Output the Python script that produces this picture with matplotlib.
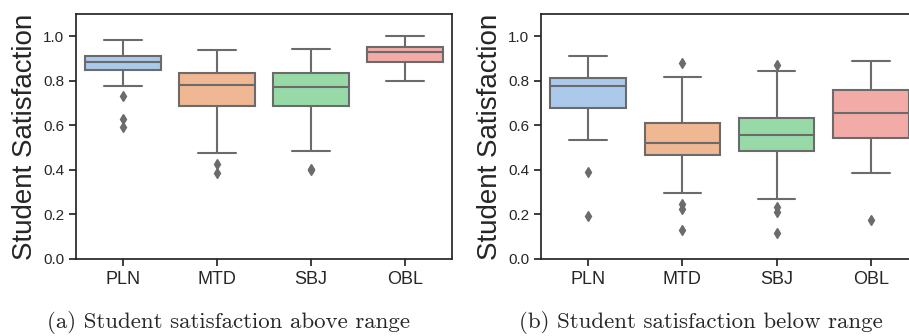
import matplotlib
matplotlib.use("Agg")
import matplotlib.pyplot as plt
import seaborn as sns

categories = ["PLN", "MTD", "SBJ", "OBL"]

# Panel (a): Student satisfaction above range
above_whislo = [0.777, 0.478, 0.485, 0.801]
above_q1 = [0.847, 0.687, 0.687, 0.885]
above_med = [0.885, 0.781, 0.771, 0.928]
above_q3 = [0.912, 0.837, 0.835, 0.952]
above_whishi = [0.983, 0.939, 0.942, 1.000]
above_fliers = [[0.732, 0.629, 0.591], [0.427, 0.385], [0.405, 0.398], []]

# Panel (b): Student satisfaction below range
below_whislo = [0.534, 0.298, 0.268, 0.388]
below_q1 = [0.678, 0.467, 0.485, 0.543]
below_med = [0.775, 0.522, 0.557, 0.656]
below_q3 = [0.814, 0.611, 0.635, 0.759]
below_whishi = [0.910, 0.816, 0.844, 0.889]
below_fliers = [[0.392, 0.193], [0.882, 0.247, 0.223, 0.130],
                [0.871, 0.235, 0.213, 0.118], [0.175]]

yticks = [0.0, 0.2, 0.4, 0.6, 0.8, 1.0]
captions = ["(a) Student satisfaction above range", "(b) Student satisfaction below range"]
ylabel = "Student Satisfaction"

sns.set_style("ticks")
plt.rcParams["font.family"] = ["Liberation Sans", "DejaVu Sans"]

pal = [sns.desaturate(c, 0.75) for c in sns.color_palette("pastel", 4)]
edge = "#6b6b6b"

fig = plt.figure(figsize=(9.09, 3.36), dpi=100)
W, H = 909, 336
ax1 = fig.add_axes([76 / W, 1 - 259 / H, 376 / W, 245 / H])
ax2 = fig.add_axes([541 / W, 1 - 259 / H, 377 / W, 245 / H])


def make_stats(lo, q1, med, q3, hi, fl):
    out = []
    for i in range(len(categories)):
        out.append(dict(whislo=lo[i], q1=q1[i], med=med[i], q3=q3[i],
                        whishi=hi[i], fliers=fl[i], label=categories[i]))
    return out


datasets = [
    make_stats(above_whislo, above_q1, above_med, above_q3, above_whishi, above_fliers),
    make_stats(below_whislo, below_q1, below_med, below_q3, below_whishi, below_fliers),
]

for ax, stats in zip([ax1, ax2], datasets):
    bp = ax.bxp(stats, positions=range(len(categories)), widths=0.8,
                patch_artist=True,
                boxprops=dict(edgecolor=edge, linewidth=1.5),
                medianprops=dict(color=edge, linewidth=1.5),
                whiskerprops=dict(color=edge, linewidth=1.5),
                capprops=dict(color=edge, linewidth=1.5),
                flierprops=dict(marker="d", markerfacecolor=edge,
                                markeredgecolor=edge, markersize=5, linestyle="none"),
                capwidths=0.4)
    for patch, c in zip(bp["boxes"], pal):
        patch.set_facecolor(c)
    ax.set_xlim(-0.5, 3.5)
    ax.set_ylim(0, 1.1)
    ax.set_yticks(yticks)
    ax.set_yticklabels([f"{t:.1f}" for t in yticks], fontsize=11, color="#262626")
    ax.set_xticks(range(len(categories)))
    ax.set_xticklabels(categories, fontsize=13, color="#262626")
    ax.set_ylabel(ylabel, fontsize=20, color="#262626", labelpad=4)
    for s in ax.spines.values():
        s.set_linewidth(1.25)
        s.set_color("#262626")
    ax.tick_params(width=1.25, length=5, color="#262626")

fig.text(228.5 / W, 1 - 322 / H, captions[0], fontsize=16.5, family="cmr10", ha="center", va="center")
fig.text(701 / W, 1 - 322 / H, captions[1], fontsize=16.5, family="cmr10", ha="center", va="center")

fig.savefig("out.png", dpi=100)
